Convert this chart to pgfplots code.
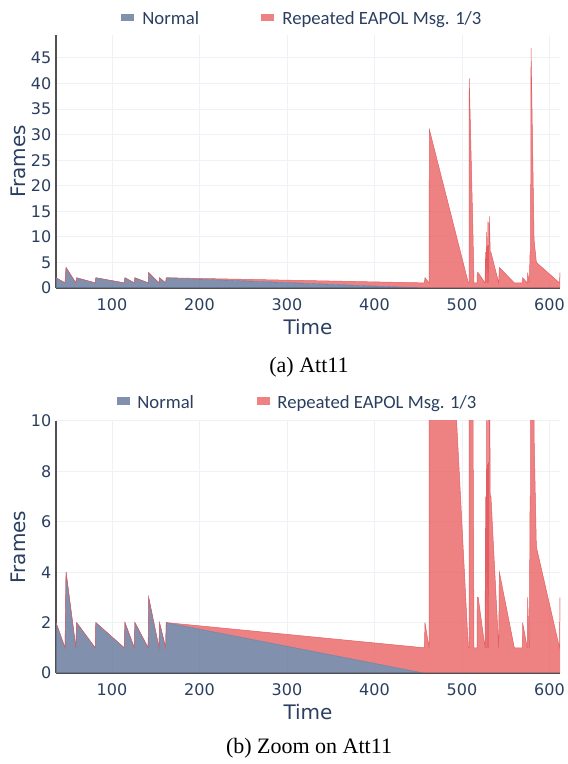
\documentclass[border=0pt]{standalone}
\usepackage{pgfplots}
\pgfplotsset{compat=1.18}
\usepackage{pgfplotstable}
\usepgfplotslibrary{fillbetween}
\usepackage{fontspec}
\setmainfont{DejaVu Sans}
\newfontfamily\legfont{Carlito}
\newfontfamily\capfont{Liberation Serif}
\definecolor{txt}{HTML}{2A3F5F}
\definecolor{normalc}{HTML}{6A7C9F}
\definecolor{normalL}{HTML}{8090AD}
\definecolor{redc}{HTML}{EB6C6C}
\definecolor{redL}{HTML}{EE8282}
\definecolor{redline}{HTML}{E25E62}
\definecolor{gridc}{HTML}{EEF1F6}
\definecolor{axisc}{HTML}{505050}

\pgfplotstableread{
x y
36 2
46.3 1
47.5 4
58.7 1
59.5 2
80.8 1
81.5 2
114 1
114.8 2
125.5 1
126.2 2
141.3 1
141.9 3
153.7 1
154.3 2
161.3 1
162 2
456 0
612 0
}\normaltab

\pgfplotstableread{
x y
36 2
46.3 1
47.5 4
58.7 1
59.5 2
80.8 1
81.5 2
114 1
114.8 2
125.5 1
126.2 2
141.3 1
141.9 3
153.7 1
154.3 2
161.3 1
162 2
457 1
457.7 2
462.3 1
462.7 31
507.2 1
508 1
508.3 41
512.5 11
513.7 1
517.2 1
517.5 3
518.5 3
526.3 1
527 7
527.5 1
528.2 11
529 1
529.7 13
530.4 1
531.2 14
532.3 7
533.1 7
541.9 1
542.7 4
559.8 1
569 1
569.3 2
574.6 1
575 3
576.9 1
577.8 7
578.4 7
578.9 47
582.3 10
582.6 9
585 5
611.4 1
612 3
}\totaltab

\pgfplotsset{
  myax/.style={
    scale only axis, width=504pt,
    xmin=36, xmax=612, ymin=0,
    axis x line*=bottom, axis y line*=left,
    axis line style={axisc, line width=1.2pt, -},
    xtick={100,200,300,400,500,600},
    major tick length=0pt, tick style={draw=none},
    grid=major, major grid style={gridc, line width=1pt},
    ticklabel style={font=\fontsize{16}{19}\selectfont, text=txt},
    /pgf/number format/assume math mode=true,
    xticklabel style={anchor=north, inner sep=0pt, yshift=-10pt},
    yticklabel style={anchor=east, inner sep=0pt, xshift=-4.5pt},
    xlabel={Time}, ylabel={Frames},
    label style={font=\fontsize{20}{24}\selectfont, text=txt, inner sep=0pt},
    xlabel style={at={([yshift=-47pt]axis description cs:0.5,0)}, anchor=base},
    ylabel style={at={([xshift=-30pt]axis description cs:0,0.5)}, anchor=base},
  },
  mylegend/.style n args={4}{
    legend style={at={(#1,#2)}, anchor=west, draw=none, fill=none,
      inner sep=0pt, outer sep=0pt, legend columns=2,
      cells={anchor=base west},
      nodes={inner sep=0pt, font=\legfont\fontsize{18.7}{22}\selectfont, text=txt},
      /tikz/every odd column/.append style={column sep=#3},
      /tikz/every even column/.append style={column sep=#4}},
  },
}

\begin{document}
\begin{tikzpicture}
\path (0,0) rectangle (568pt,764pt);

% ---------- (a) ----------
\begin{axis}[myax, at={(56pt,476pt)}, anchor=south west, height=253pt,
  ymax=49.5, ytick={0,5,...,45},
  mylegend={0.129}{1.063}{9pt}{62pt}]
\addlegendimage{legend image code/.code={\fill[normalL] (0pt,4.3pt) rectangle (12pt,11pt);}}
\addlegendentry{Normal}
\addlegendimage{legend image code/.code={\fill[redL] (0pt,4.3pt) rectangle (12pt,11pt);}}
\addlegendentry{Repeated EAPOL Msg. 1/3}
\addplot[forget plot, draw=none, fill=normalc, fill opacity=0.85] table {\normaltab} \closedcycle;
\addplot[forget plot, name path=N, draw=normalc, line width=0.4pt] table {\normaltab};
\addplot[forget plot, name path=T, draw=redline, line width=0.5pt] table {\totaltab};
\addplot[forget plot, fill=redc, fill opacity=0.85, draw=none] fill between[of=T and N];
\end{axis}

% ---------- (b) ----------
\begin{axis}[myax, at={(56pt,91pt)}, anchor=south west, height=252pt,
  ymax=10, ytick={0,2,...,10},
  mylegend={0.121}{1.074}{8pt}{63pt}]
\addlegendimage{legend image code/.code={\fill[normalL] (0pt,4.3pt) rectangle (12pt,11pt);}}
\addlegendentry{Normal}
\addlegendimage{legend image code/.code={\fill[redL] (0pt,4.3pt) rectangle (12pt,11pt);}}
\addlegendentry{Repeated EAPOL Msg. 1/3}
\addplot[forget plot, draw=none, fill=normalc, fill opacity=0.85] table {\normaltab} \closedcycle;
\addplot[forget plot, name path=N2, draw=normalc, line width=0.4pt] table {\normaltab};
\addplot[forget plot, name path=T2, draw=redline, line width=0.5pt] table {\totaltab};
\addplot[forget plot, fill=redc, fill opacity=0.85, draw=none] fill between[of=T2 and N2];
\end{axis}

\node[font=\capfont\fontsize{22}{26}\selectfont, anchor=base, inner sep=0pt] at (309pt,391pt) {(a) Att11};
\node[font=\capfont\fontsize{22}{26}\selectfont, anchor=base, inner sep=0pt] at (309pt,10pt) {(b) Zoom on Att11};
\end{tikzpicture}
\end{document}
